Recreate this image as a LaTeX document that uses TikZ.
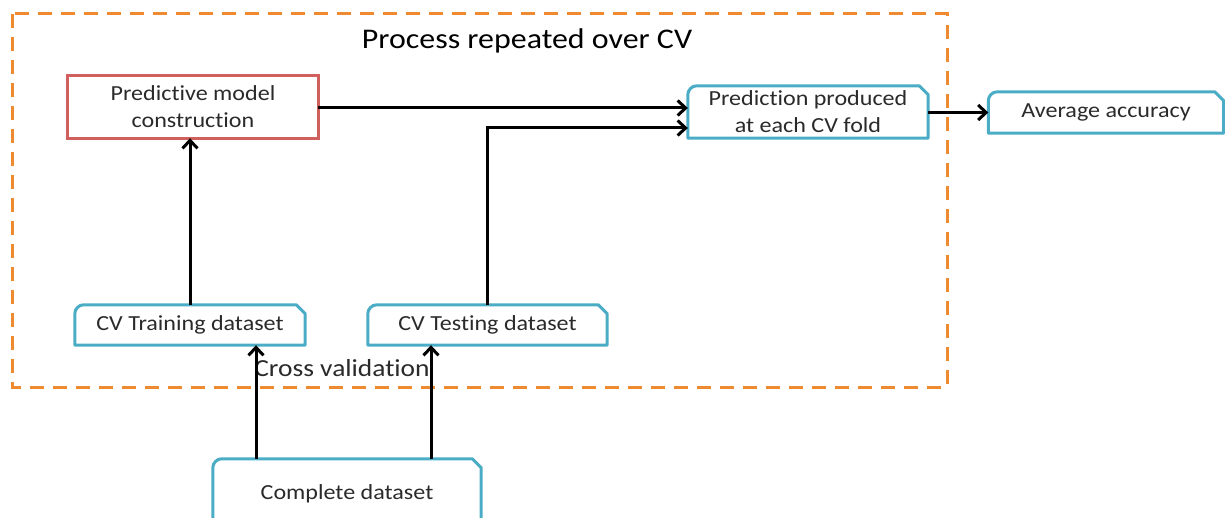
\documentclass[tikz,border=0pt]{standalone}
\usepackage{fontspec}
\setmainfont[Ligatures=NoCommon, FakeStretch=1.12]{Carlito}
\usetikzlibrary{arrows.meta}
\definecolor{frameorange}{HTML}{F08A30}
\definecolor{boxblue}{HTML}{4BACC6}
\definecolor{boxred}{HTML}{D0605E}
\definecolor{txt}{HTML}{2A2A2A}
\tikzset{
  x=1pt, y=-1pt,
  every node/.style={font=\fontsize{21.5}{27}\selectfont, text=txt},
  flowbox/.style={draw=none, inner sep=0pt, align=center},
  blueline/.style={draw=boxblue, line width=3pt, line join=round},
  redline/.style={draw=boxred, line width=3pt},
  arr/.style={line width=3pt, -{Straight Barb[length=8pt,width=15pt,line width=3pt]}},
  cvframe/.style={draw=frameorange, line width=3pt, dash pattern=on 14pt off 9pt},
  title/.style={font=\fontsize{28.5}{32}\selectfont, text=black},
  sublabel/.style={font=\fontsize{24.5}{28}\selectfont, text=txt}
}
% outline with a rounded top-left corner and a cut top-right corner
\newcommand\snipoutline[1]{%
  \path[blueline] (#1.south west) -- ([yshift=-9pt]#1.north west)
    arc[start angle=180, end angle=90, radius=9pt]
    -- ([xshift=-9pt]#1.north east) -- ([yshift=-9pt]#1.north east)
    -- (#1.south east) -- cycle;}
\begin{document}
\begin{tikzpicture}
\useasboundingbox (0,0) rectangle (1225,518);
\clip (0,0) rectangle (1225,518);

% frame of the repeated cross-validation loop
\draw[cvframe] (12,14) rectangle (947,387);
\node[title] (heading) at (527,41) {Process repeated over CV};
\node[sublabel] (cvlabel) at (342,368) {Cross validation};

% boxes
\node[flowbox, minimum width=250pt, minimum height=62pt] (pm) at (193,107) {Predictive model\\construction};
\draw[redline] (pm.south west) rectangle (pm.north east);

\node[flowbox, minimum width=240pt, minimum height=52pt] (pp) at (808,112) {Prediction produced\\at each CV fold};
\snipoutline{pp}

\node[flowbox, minimum width=235pt, minimum height=41pt] (avg) at (1106,112.5) {Average accuracy};
\snipoutline{avg}

\node[flowbox, minimum width=230pt, minimum height=40pt] (tr) at (190,325) {CV Training dataset};
\snipoutline{tr}

\node[flowbox, minimum width=239pt, minimum height=40pt] (te) at (487.5,325) {CV Testing dataset};
\snipoutline{te}

\node[flowbox, minimum width=268pt, minimum height=70pt] (cd) at (347,494) {Complete dataset};
\snipoutline{cd}

% connectors
\coordinate (ppin1) at ([yshift=4pt]pp.west);
\coordinate (ppin2) at ([yshift=-16pt]pp.west);
\draw[arr] (pm.east |- ppin1) -- (ppin1);
\draw[arr] (te.north) |- (ppin2);
\draw[arr] (tr.north) -- (tr.north |- pm.south);
\draw[arr] (pp.east |- avg.west) -- (avg.west);
\coordinate (cdout1) at ([xshift=-91pt]cd.north);
\coordinate (cdout2) at ([xshift=84pt]cd.north);
\draw[arr] (cdout1) -- (cdout1 |- tr.south);
\draw[arr] (cdout2) -- (cdout2 |- te.south);
\end{tikzpicture}
\end{document}
